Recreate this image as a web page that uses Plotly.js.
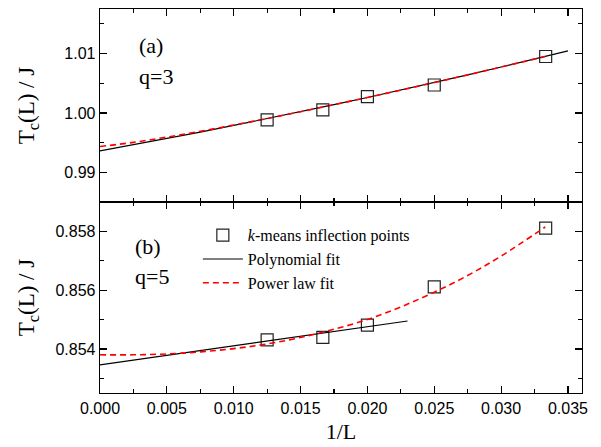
<!DOCTYPE html>
<html>
<head>
<meta charset="utf-8">
<script src="https://cdn.plot.ly/plotly-3.0.1.min.js"></script>
<style>html,body{margin:0;padding:0;background:#fff;}#chart{width:601px;height:447px;}</style>
</head>
<body>
<div id="chart"></div>
<script>
// Inverse system size 1/L (L = 80, 60, 50, 40, 30)
const invL = [0.0125, 0.016667, 0.02, 0.025, 0.033333];
// (a) q=3 k-means inflection points
const tcQ3 = [0.99882, 1.0005, 1.00274, 1.0047, 1.0095];
// (b) q=5 k-means inflection points
const tcQ5 = [0.85431, 0.85439, 0.85481, 0.85611, 0.85811];

// (a) fit curves
const polyQ3X = [0, 0.0025, 0.005, 0.0075, 0.01, 0.0125, 0.015, 0.0175, 0.02, 0.0225, 0.025, 0.0275, 0.03, 0.0325, 0.035];
const polyQ3Y = [0.99361, 0.99464, 0.99570, 0.99678, 0.99789, 0.99903, 1.00020, 1.00139, 1.00260, 1.00384, 1.00511, 1.00640, 1.00773, 1.00907, 1.01045];
const powQ3X = [0, 0.0025, 0.005, 0.0075, 0.01, 0.0125, 0.015, 0.0175, 0.02, 0.0225, 0.025, 0.0275, 0.03, 0.0333];
const powQ3Y = [0.99434, 0.99504, 0.99593, 0.99691, 0.99796, 0.99906, 1.00021, 1.00139, 1.00260, 1.00384, 1.00511, 1.00641, 1.00773, 1.00950];

// (b) fit curves
const polyQ5X = [0, 0.005, 0.01, 0.015, 0.02, 0.023];
const polyQ5Y = [0.853455, 0.85378, 0.85410, 0.85443, 0.85475, 0.85495];
const powQ5X = [0, 0.0025, 0.005, 0.0075, 0.01, 0.0125, 0.015, 0.0175, 0.02, 0.0225, 0.025, 0.0275, 0.03, 0.0333];
const powQ5Y = [0.85380, 0.85380, 0.85383, 0.85390, 0.85401, 0.85417, 0.85439, 0.85467, 0.85500, 0.85543, 0.85593, 0.85650, 0.85716, 0.85815];

const xTitle = '1/L';
const yTitle = 'T<sub>c</sub>(L) / J';
const legendNames = ['<i>k</i>-means inflection points', 'Polynomial fit', 'Power law fit'];

const serif = 'Liberation Serif, Times New Roman, serif';
const sans = 'Liberation Sans, Arial, sans-serif';

const markerStyle = {symbol: 'square-open', size: 12, color: '#222', line: {width: 1.2, color: '#222'}};
const polyLine = {color: '#000', width: 1.2};
const powLine = {color: '#ff0000', width: 1.6, dash: '6px,4px'};

const traces = [
  {x: polyQ3X, y: polyQ3Y, xaxis: 'x', yaxis: 'y', mode: 'lines', line: polyLine, showlegend: false, name: legendNames[1]},
  {x: powQ3X, y: powQ3Y, xaxis: 'x', yaxis: 'y', mode: 'lines', line: Object.assign({shape: 'spline'}, powLine), showlegend: false, name: legendNames[2]},
  {x: invL, y: tcQ3, xaxis: 'x', yaxis: 'y', mode: 'markers', marker: markerStyle, showlegend: false, name: legendNames[0]},
  {x: invL, y: tcQ5, xaxis: 'x2', yaxis: 'y2', mode: 'markers', marker: markerStyle, name: legendNames[0]},
  {x: polyQ5X, y: polyQ5Y, xaxis: 'x2', yaxis: 'y2', mode: 'lines', line: polyLine, name: legendNames[1]},
  {x: powQ5X, y: powQ5Y, xaxis: 'x2', yaxis: 'y2', mode: 'lines', line: Object.assign({shape: 'spline'}, powLine), name: legendNames[2]}
];

function axisBase(extra) {
  return Object.assign({
    showline: true, linecolor: '#000', linewidth: 1.3, mirror: 'ticks',
    ticks: 'inside', ticklen: 7, tickwidth: 1.2, tickcolor: '#000',
    showgrid: false, zeroline: false,
    tickfont: {family: sans, size: 16, color: '#000'}
  }, extra);
}

const split = 191 / 384;
const xRange = [0, 0.03605];
const layout = {
  width: 601, height: 447,
  margin: {l: 100, r: 19, t: 9, b: 54},
  paper_bgcolor: '#fff', plot_bgcolor: '#fff',
  showlegend: true,
  legend: {
    x: 0.203, y: 0.455, xanchor: 'left', yanchor: 'top',
    bgcolor: 'rgba(0,0,0,0)', borderwidth: 0,
    font: {family: serif, size: 16, color: '#000'},
    traceorder: 'normal', tracegroupgap: 0, itemwidth: 40
  },
  xaxis: axisBase({anchor: 'y', range: xRange, dtick: 0.005, tick0: 0, showticklabels: false,
    minor: {ticks: 'inside', ticklen: 4, tickwidth: 1.2, tickcolor: '#000', dtick: 0.0025, showgrid: false}}),
  yaxis: axisBase({anchor: 'x', domain: [split, 1], range: [0.985, 1.0175], dtick: 0.01, tick0: 0.99, tickformat: '.2f',
    minor: {ticks: 'inside', ticklen: 4, tickwidth: 1.2, tickcolor: '#000', dtick: 0.005, showgrid: false},
    title: {text: yTitle, font: {family: serif, size: 23, color: '#000'}, standoff: 23}}),
  xaxis2: axisBase({anchor: 'y2', range: xRange, dtick: 0.005, tick0: 0, tickformat: '.3f',
    minor: {ticks: 'inside', ticklen: 4, tickwidth: 1.2, tickcolor: '#000', dtick: 0.0025, showgrid: false},
    title: {text: xTitle, font: {family: serif, size: 22, color: '#000'}, standoff: 8}}),
  yaxis2: axisBase({anchor: 'x2', domain: [0, split], range: [0.8525, 0.859], dtick: 0.002, tick0: 0.852, tickformat: '.3f',
    minor: {ticks: 'inside', ticklen: 4, tickwidth: 1.2, tickcolor: '#000', dtick: 0.001, showgrid: false},
    title: {text: yTitle, font: {family: serif, size: 23, color: '#000'}, standoff: 14}}),
  annotations: [
    {text: '(a)', xref: 'x domain', yref: 'y domain', x: 0.077, y: 0.809, xanchor: 'left', yanchor: 'middle', showarrow: false, font: {family: serif, size: 22, color: '#000'}},
    {text: 'q=3', xref: 'x domain', yref: 'y domain', x: 0.077, y: 0.649, xanchor: 'left', yanchor: 'middle', showarrow: false, font: {family: serif, size: 22, color: '#000'}},
    {text: '(b)', xref: 'x2 domain', yref: 'y2 domain', x: 0.069, y: 0.768, xanchor: 'left', yanchor: 'middle', showarrow: false, font: {family: serif, size: 22, color: '#000'}},
    {text: 'q=5', xref: 'x2 domain', yref: 'y2 domain', x: 0.069, y: 0.610, xanchor: 'left', yanchor: 'middle', showarrow: false, font: {family: serif, size: 22, color: '#000'}}
  ]
};

Plotly.newPlot('chart', traces, layout, {displayModeBar: false, staticPlot: true});
</script>
</body>
</html>
